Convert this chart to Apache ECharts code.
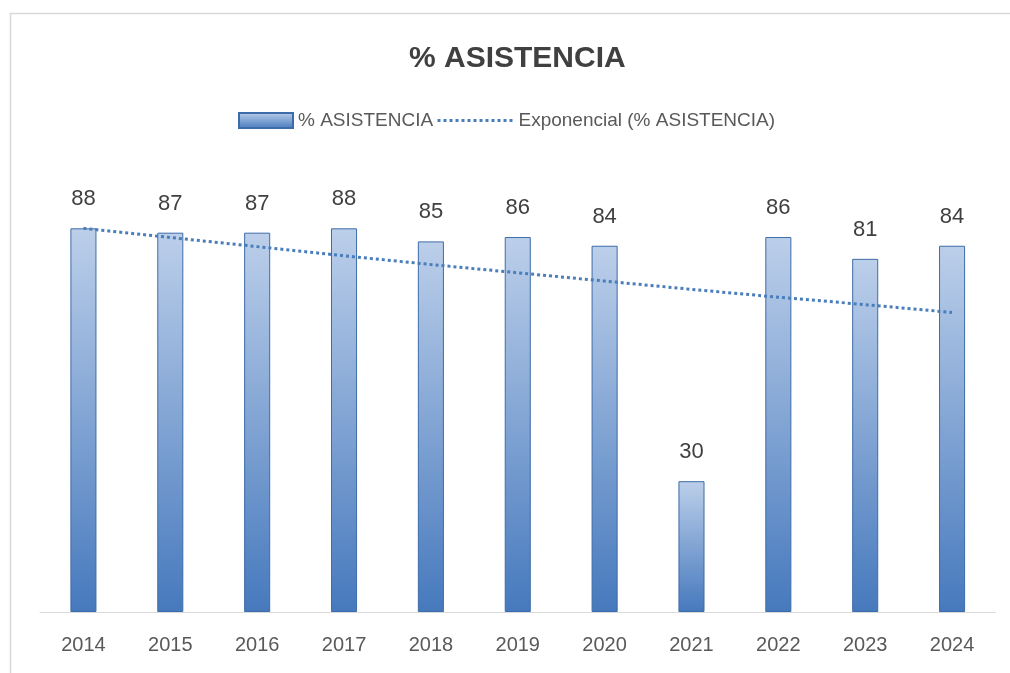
<!DOCTYPE html>
<html>
<head>
<meta charset="utf-8">
<script src="https://cdn.jsdelivr.net/npm/echarts@6/dist/echarts.min.js"></script>
<style>html,body{margin:0;padding:0;background:#fff;}#c{width:1010px;height:673px;}</style>
</head>
<body>
<div id="c"></div>
<script>
const years = ['2014','2015','2016','2017','2018','2019','2020','2021','2022','2023','2024'];
const asistencia = [88, 87, 87, 88, 85, 86, 84, 30, 86, 81, 84];
const tendencia = [88.0, 85.9, 83.8, 81.7, 79.7, 77.8, 75.9, 74.0, 72.2, 70.5, 68.7];
const yTicks = [0, 100];

const chart = echarts.init(document.getElementById('c'));
const font = 'Liberation Sans, Arial, sans-serif';
const legendText = { fontFamily: font, fontSize: 19, color: '#595959' };
chart.setOption({
  animation: false,
  backgroundColor: '#ffffff',
  graphic: [{
    type: 'rect', left: 8, top: 11, z: -1,
    shape: { width: 1010, height: 700 },
    style: { fill: 'none', stroke: '#d9d9d9', lineWidth: 1.5 }
  }],
  title: {
    text: '% ASISTENCIA', left: 404, top: 39,
    textStyle: { fontFamily: font, fontSize: 30, fontWeight: 'bold', color: '#404040' }
  },
  legend: [{
    top: 106, left: 233, itemWidth: 54, itemHeight: 15,
    textStyle: legendText,
    data: [{ name: '% ASISTENCIA', icon: 'rect' }]
  }, {
    top: 106, left: 431, itemWidth: 76, itemHeight: 15,
    textStyle: legendText,
    data: [{ name: 'Exponencial (% ASISTENCIA)', itemStyle: { opacity: 0 }, lineStyle: { width: 3 } }]
  }],
  grid: { left: 40, right: 14.5, top: 176, bottom: 61 },
  xAxis: {
    type: 'category', data: years,
    axisLine: { lineStyle: { color: '#d9d9d9', width: 1 } },
    axisTick: { show: false },
    axisLabel: { fontFamily: font, fontSize: 20, color: '#595959', margin: 23 }
  },
  yAxis: {
    type: 'value', min: yTicks[0], max: yTicks[1], show: false,
    splitLine: { show: false }
  },
  series: [{
    name: '% ASISTENCIA', type: 'bar', data: asistencia, barWidth: '30%',
    itemStyle: {
      color: new echarts.graphic.LinearGradient(0, 0, 0, 1, [
        { offset: 0, color: '#bccfea' },
        { offset: 1, color: '#4679bd' }
      ]),
      borderColor: '#3d6ca8', borderWidth: 1
    },
    label: {
      show: true, position: 'top', distance: 18,
      fontFamily: font, fontSize: 22, color: '#404040'
    }
  }, {
    name: 'Exponencial (% ASISTENCIA)', type: 'line', data: tendencia,
    symbol: 'none', smooth: false, z: 5,
    lineStyle: { type: 'dotted', width: 3, color: '#4a7ebb' },
    itemStyle: { color: '#4a7ebb' }
  }]
});
</script>
</body>
</html>
